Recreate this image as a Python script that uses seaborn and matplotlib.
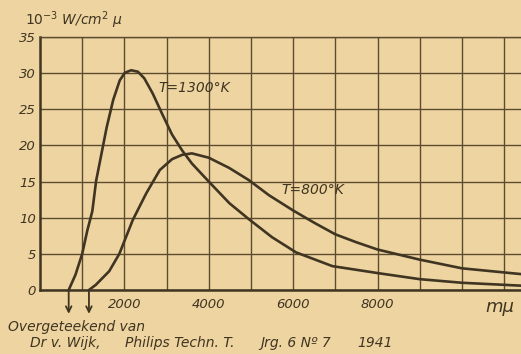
import matplotlib
matplotlib.use("Agg")
import matplotlib.pyplot as plt
import seaborn as sns
import pandas as pd

# --- data (wavelength in mμ, intensity in 10^-3 W/cm² μ) ---
x_1300 = [680, 840, 1000, 1120, 1240, 1330, 1425, 1580, 1735, 1890, 2010, 2160, 2320, 2470, 2670, 2900, 3130, 3370, 3600, 4000, 4490, 4950, 5500, 6070, 6930, 8050, 9000, 10000, 11400]
y_1300 = [0.0, 2.1, 5.0, 8.2, 10.9, 15.1, 17.9, 22.5, 26.3, 29.0, 30.05, 30.4, 30.2, 29.3, 27.2, 24.3, 21.5, 19.3, 17.5, 15.0, 12.0, 9.8, 7.3, 5.2, 3.3, 2.3, 1.5, 1.0, 0.6]

x_800 = [1160, 1320, 1640, 1880, 2200, 2520, 2840, 3130, 3370, 3600, 4000, 4480, 4950, 5430, 6000, 6500, 7000, 7500, 8000, 9000, 10000, 11400]
y_800 = [0.0, 0.7, 2.6, 5.0, 9.7, 13.4, 16.6, 18.1, 18.7, 18.9, 18.3, 16.9, 15.2, 13.1, 11.0, 9.3, 7.7, 6.6, 5.6, 4.2, 3.0, 2.2]

xtick_values = [2000, 4000, 6000, 8000]
xtick_labels = ["2000", "4000", "6000", "8000"]
ytick_values = [0, 5, 10, 15, 20, 25, 30, 35]
ytick_labels = ["0", "5", "10", "15", "20", "25", "30", "35"]

label_1300 = "T=1300°K"
label_800 = "T=800°K"
y_unit = r"$10^{-3}$ W/cm$^{2}$ μ"
x_unit = "mμ"
credit_1 = "Overgeteekend van"
credit_2_parts = ["Dr v. Wijk,", "Philips Techn. T.", "Jrg. 6 Nº 7", "1941"]

paper = "#eed4a0"
ink = "#3f3522"
grid_ink = "#5b4c31"

sns.set_style("white", {"axes.facecolor": paper, "figure.facecolor": paper})
plt.rcParams["font.family"] = ["DejaVu Sans"]

fig = plt.figure(figsize=(5.21, 3.54), dpi=100)
ax = fig.add_axes([40 / 521, (354 - 290) / 354, 1 - 40 / 521, (290 - 37) / 354])
ax.set_facecolor(paper)

df1 = pd.DataFrame({"x": x_1300, "y": y_1300})
df2 = pd.DataFrame({"x": x_800, "y": y_800})
sns.lineplot(data=df1, x="x", y="y", ax=ax, color=ink, lw=1.9, estimator=None, sort=False)
sns.lineplot(data=df2, x="x", y="y", ax=ax, color=ink, lw=1.9, estimator=None, sort=False)

ax.set_xlim(0, 11400)
ax.set_ylim(0, 35)

# grid every 1000 mμ and every 5 units
ax.set_xticks(list(range(1000, 11001, 1000)), minor=True)
ax.set_xticks(xtick_values)
ax.set_xticklabels(xtick_labels, fontsize=9.5, style="italic", color=ink)
ax.set_yticks(ytick_values)
ax.set_yticklabels(ytick_labels, fontsize=9.5, style="italic", color=ink)
ax.tick_params(axis="both", which="both", length=0)
ax.tick_params(axis="y", pad=3)
ax.tick_params(axis="x", pad=6)
ax.grid(True, which="both", color=grid_ink, lw=1.0)
ax.set_axisbelow(True)
ax.set_xlabel("")
ax.set_ylabel("")

for s in ["left", "bottom"]:
    ax.spines[s].set_color(ink)
    ax.spines[s].set_linewidth(1.8)
ax.spines["top"].set_color(grid_ink)
ax.spines["top"].set_linewidth(1.0)
ax.spines["right"].set_visible(False)

# start arrows
for xs in (x_1300[0], x_800[0]):
    ax.annotate("", xy=(xs, -3.3), xytext=(xs, 0), annotation_clip=False,
                arrowprops=dict(arrowstyle="->", lw=1.3, color=ink, shrinkA=0, shrinkB=0))

ax.text(2800, 28.0, label_1300, fontsize=10, style="italic", color=ink, va="center", ha="left")
ax.text(5720, 12.9, label_800, fontsize=10, style="italic", color=ink, va="bottom", ha="left")
ax.text(10900, -2.3, x_unit, fontsize=13, style="italic", color=ink, va="center", ha="center", clip_on=False)

fig.text(25 / 521, 1 - 20 / 354, y_unit, fontsize=10, style="italic", color=ink, va="center", ha="left")
fig.text(8 / 521, 1 - 327 / 354, credit_1, fontsize=10, style="italic", color=ink, va="center", ha="left")
for xp, part in zip([30, 125, 260, 357], credit_2_parts):
    fig.text(xp / 521, 1 - 343 / 354, part, fontsize=10, style="italic", color=ink, va="center", ha="left")

fig.savefig("out.png", dpi=100, facecolor=paper)
